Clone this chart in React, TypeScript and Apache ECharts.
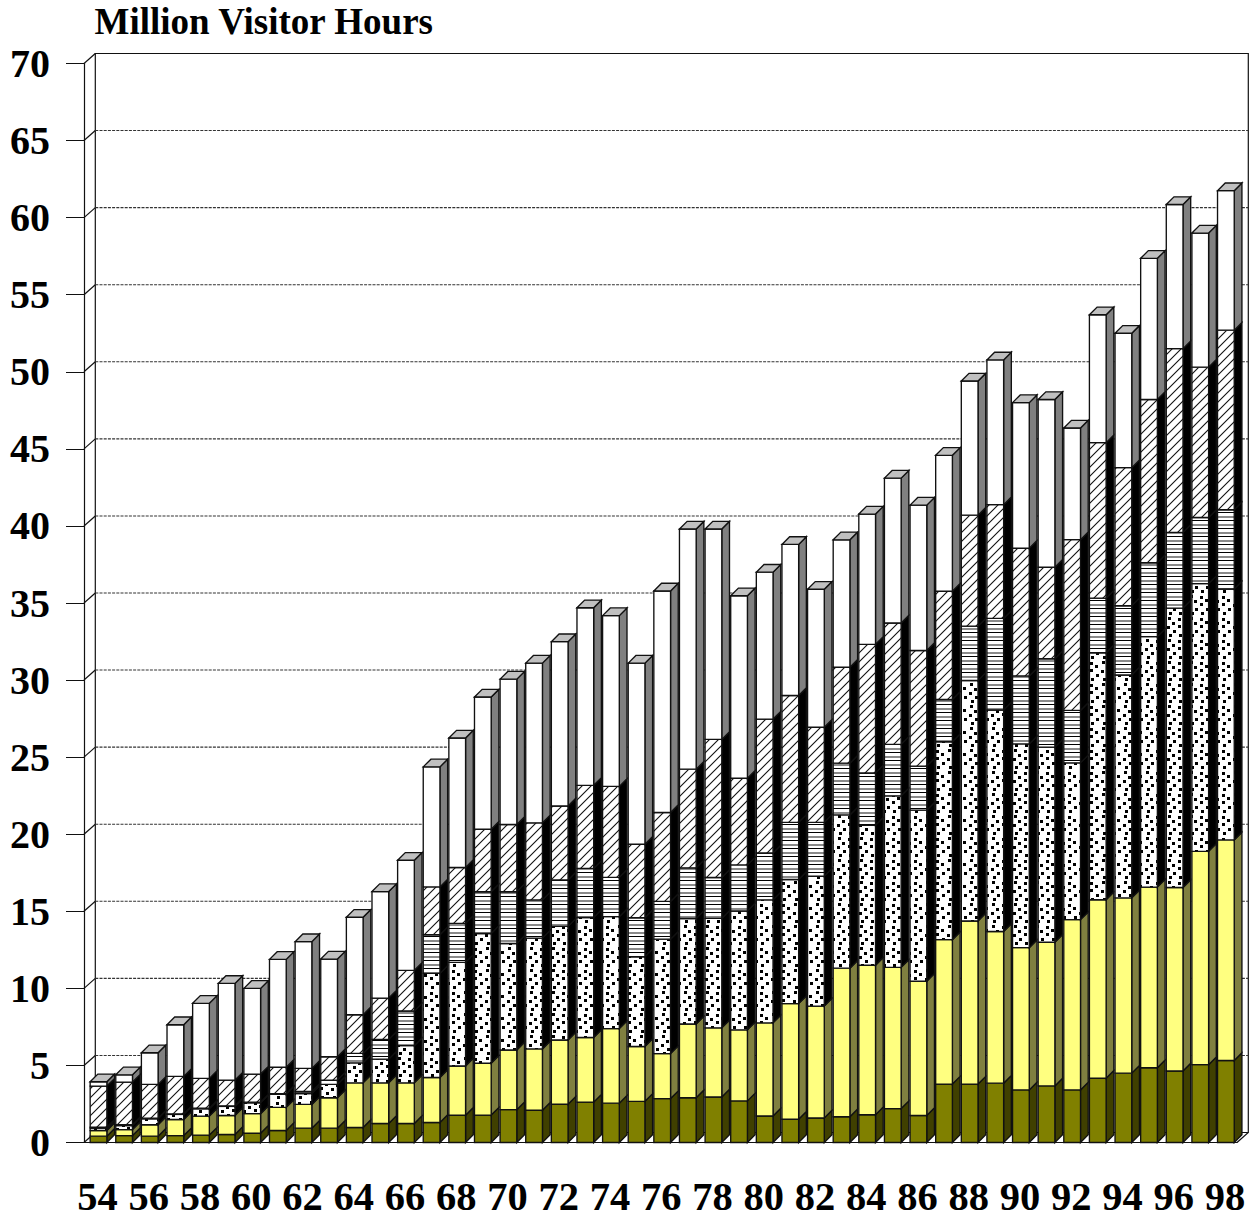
import React, { useEffect, useRef } from "react";
import * as echarts from "echarts";

const years = ["54","55","56","57","58","59","60","61","62","63","64","65","66","67","68","69","70","71","72","73","74","75","76","77","78","79","80","81","82","83","84","85","86","87","88","89","90","91","92","93","94","95","96","97","98"];
const yTicks = [0, 5, 10, 15, 20, 25, 30, 35, 40, 45, 50, 55, 60, 65, 70];

// Cumulative height of each stacked layer, bottom to top, in million visitor hours.
const oliveTop = [0.41,0.45,0.41,0.45,0.48,0.52,0.6,0.78,0.93,0.93,0.97,1.23,1.23,1.3,1.77,1.78,2.13,2.09,2.48,2.62,2.55,2.67,2.85,2.9,2.95,2.7,1.72,1.51,1.59,1.67,1.8,2.2,1.75,3.79,3.79,3.85,3.41,3.67,3.41,4.17,4.5,4.85,4.64,5.05,5.32];
const yellowTop = [0.78,0.84,1.15,1.49,1.71,1.75,1.87,2.28,2.47,2.9,3.87,3.87,3.87,4.22,4.96,5.14,6.0,6.07,6.65,6.81,7.39,6.23,5.77,7.69,7.44,7.31,7.76,9.01,8.85,11.31,11.5,11.36,10.46,13.16,14.37,13.69,12.64,12.99,14.46,15.75,15.87,16.57,16.54,18.89,19.63];
const dottedTop = [0.93,1.1,1.54,1.82,2.19,2.34,2.58,3.13,3.18,3.77,5.17,5.41,6.28,10.97,11.69,13.56,12.91,13.26,14.02,14.6,14.65,12.05,13.19,14.53,14.54,15.02,15.74,17.06,17.27,21.25,20.58,22.49,21.56,26.0,29.97,28.06,25.86,25.65,24.63,31.77,30.33,32.82,34.67,36.26,35.91];
const linedTop = [1.0,1.15,1.58,1.86,2.23,2.38,2.62,3.17,3.31,4.05,5.78,6.69,8.53,13.48,14.22,16.27,16.27,15.74,17.03,17.78,17.2,14.58,15.64,17.82,17.19,18.01,18.78,20.77,20.77,24.61,23.97,25.83,24.42,28.74,33.5,34.0,30.27,31.38,28.03,35.32,34.82,37.61,39.58,40.55,41.05];
const hatchedTop = [3.66,3.92,3.77,4.29,4.16,4.05,4.44,4.88,4.81,5.56,8.29,9.37,11.17,16.58,17.84,20.32,20.63,20.74,21.83,23.17,23.1,19.35,21.41,24.22,26.15,23.63,27.47,29.0,26.94,30.83,32.32,33.7,31.92,35.76,40.7,41.38,38.55,37.32,39.11,45.4,43.78,48.2,51.5,50.3,52.7];
const whiteTop = [3.94,4.39,5.82,7.64,9.03,10.32,10.0,11.88,13.03,11.9,14.61,16.28,18.31,24.37,26.24,28.9,30.06,31.1,32.49,34.69,34.18,31.1,35.78,39.8,39.8,35.47,37.0,38.8,35.89,39.1,40.77,43.1,41.35,44.58,49.4,50.77,48.0,48.2,46.35,53.7,52.5,57.36,60.85,59.0,61.75];

const INK = "#111";

// Tile painters for the three monochrome fills.
function makeTile(w: number, h: number, paint: (c: CanvasRenderingContext2D) => void) {
  const cv = document.createElement("canvas");
  cv.width = w;
  cv.height = h;
  const c = cv.getContext("2d")!;
  c.fillStyle = "#fff";
  c.fillRect(0, 0, w, h);
  paint(c);
  return { image: cv, repeat: "repeat", imageWidth: w, imageHeight: h };
}

function dotTile() {
  return makeTile(22, 22, (c) => {
    c.fillStyle = "#000";
    const dots = [[2,1],[12,2],[6,6],[17,5],[1,10],[12,9],[7,14],[18,14],[3,18],[13,18]];
    dots.forEach(([x, y]) => c.fillRect(x, y, 3, 3));
  });
}

function lineTile() {
  return makeTile(8, 8, (c) => {
    c.fillStyle = "#000";
    c.fillRect(0, 0, 8, 1);
    c.fillStyle = "#8a8a8a";
    c.fillRect(0, 4, 8, 2);
  });
}

function hatchTile() {
  return makeTile(9, 9, (c) => {
    c.strokeStyle = "#111";
    c.lineWidth = 1.1;
    c.beginPath();
    c.moveTo(-2, 11);
    c.lineTo(11, -2);
    c.moveTo(-2, 2);
    c.lineTo(2, -2);
    c.moveTo(7, 11);
    c.lineTo(11, 7);
    c.stroke();
  });
}

const DEPTH = 7.7;
const WALL_X = 11.3;
const WALL_Y = 10;
const EDGE = 1.35;

export default function App() {
  const ref = useRef<HTMLDivElement>(null);

  useEffect(() => {
    const chart = echarts.init(ref.current!, undefined, { renderer: "svg" });
    const fronts: any[] = ["#808000", "#ffff80", dotTile(), lineTile(), hatchTile(), "#ffffff"];
    const sides = ["#404000", "#808040", "#000000", "#000000", "#000000", "#808080"];

    const wallItem = (params: any, api: any) => {
      const v = api.value(0);
      const sys = params.coordSys;
      const y = api.coord([0, v])[1];
      const l = sys.x;
      const r = sys.x + sys.width;
      const lineStyle = { stroke: INK, lineWidth: 1.2, fill: "none" };
      const children: any[] = [];
      if (params.dataIndex === 0) {
        children.push({
          type: "polyline",
          shape: { points: [[l + WALL_X, sys.y + sys.height - WALL_Y], [l + WALL_X, sys.y - WALL_Y], [r + WALL_X, sys.y - WALL_Y], [r + WALL_X, sys.y + sys.height - WALL_Y], [r, sys.y + sys.height]] },
          style: lineStyle,
        });
      }
      children.push({ type: "line", shape: { x1: l, y1: y, x2: l + WALL_X, y2: y - WALL_Y }, style: lineStyle });
      if (v < 70) {
        children.push({
          type: "line",
          shape: { x1: l + WALL_X, y1: y - WALL_Y, x2: r + WALL_X, y2: y - WALL_Y },
          style: v === 0 ? lineStyle : { stroke: "#333", lineWidth: 1.1, lineDash: [3, 1.2] },
        });
      }
      return { type: "group", children };
    };

    const barItem = (_params: any, api: any) => {
      const i = api.value(0);
      const cx = api.coord([i, 0])[0];
      const band = api.size([1, 0])[0];
      const left = cx - band * 0.26;
      const width = band * 0.652;
      const right = left + width;
      const children: any[] = [];
      let base = api.coord([i, 0])[1];
      for (let k = 0; k < 6; k++) {
        const top = api.coord([i, api.value(k + 1)])[1];
        children.push({
          type: "polygon",
          shape: { points: [[right, base], [right + DEPTH, base - DEPTH], [right + DEPTH, top - DEPTH], [right, top]] },
          style: { fill: sides[k], stroke: INK, lineWidth: EDGE },
        });
        children.push({
          type: "rect",
          shape: { x: left, y: top, width, height: base - top },
          style: { fill: fronts[k], stroke: INK, lineWidth: EDGE },
        });
        base = top;
      }
      children.push({
        type: "polygon",
        shape: { points: [[left, base], [left + DEPTH, base - DEPTH], [right + DEPTH, base - DEPTH], [right, base]] },
        style: { fill: "#c0c0c0", stroke: INK, lineWidth: EDGE },
      });
      return { type: "group", children };
    };

    chart.setOption({
      animation: false,
      backgroundColor: "#ffffff",
      title: {
        text: "Million Visitor Hours",
        left: 94.5,
        top: 3,
        padding: 0,
        textStyle: { fontFamily: "Liberation Serif", fontWeight: "bold", fontSize: 37, color: "#000" },
      },
      // Axis labels sit close to the bottom edge; the plot keeps its own fixed box.
      grid: { left: 84, right: 17, top: 63.5, height: 1079, outerBoundsMode: "none" },
      xAxis: {
        type: "category",
        data: years,
        axisLine: { lineStyle: { color: INK, width: 1.2 } },
        axisTick: { alignWithLabel: true, interval: 0, length: 18, lineStyle: { color: INK, width: 1 } },
        axisLabel: {
          interval: 1,
          margin: 36.5,
          lineHeight: 34,
          color: "#000",
          fontFamily: "Liberation Serif",
          fontWeight: "bold",
          fontSize: 40.5,
          padding: [0, 0, 0, 1.5],
        },
        splitLine: { show: false },
      },
      yAxis: {
        type: "value",
        min: 0,
        max: 70,
        interval: 5,
        axisLine: { show: true, lineStyle: { color: INK, width: 1.2 } },
        axisTick: { show: true, length: 18, lineStyle: { color: INK, width: 1 } },
        axisLabel: {
          margin: 34,
          color: "#000",
          fontFamily: "Liberation Serif",
          fontWeight: "bold",
          fontSize: 40,
          padding: [3, 0, 0, 0],
        },
        splitLine: { show: false },
      },
      series: [
        {
          type: "custom",
          name: "wall",
          z: 1,
          silent: true,
          renderItem: wallItem,
          data: yTicks.map((v) => [v]),
          encode: { y: 0 },
        },
        {
          type: "custom",
          name: "stack",
          z: 2,
          silent: true,
          renderItem: barItem,
          data: years.map((_, i) => [i, oliveTop[i], yellowTop[i], dottedTop[i], linedTop[i], hatchedTop[i], whiteTop[i]]),
          encode: { x: 0, y: [1, 2, 3, 4, 5, 6] },
        },
      ],
    });
    return () => chart.dispose();
  }, []);

  return <div ref={ref} style={{ position: "absolute", left: 0, top: 0, width: 1254, height: 1214 }} />;
}
